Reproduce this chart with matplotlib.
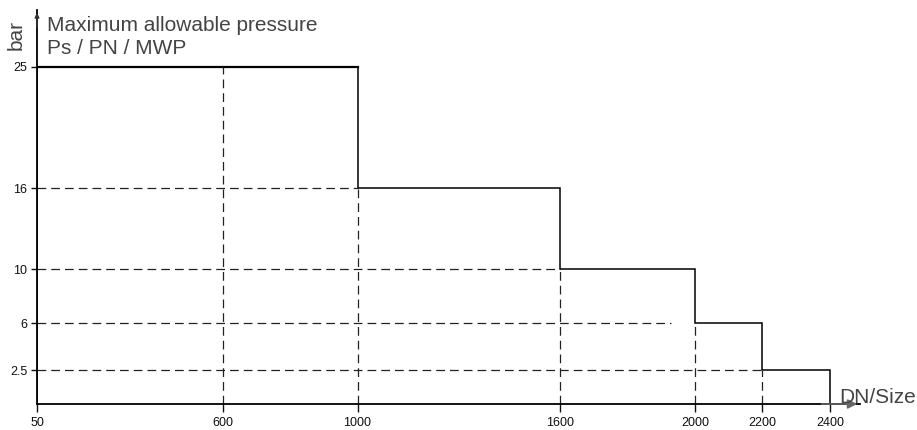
import matplotlib.pyplot as plt

plt.rcParams["font.family"] = ["Liberation Sans", "DejaVu Sans"]

# pressure class steps
dn_edges = [50, 1000, 1600, 2000, 2200, 2400]
pressures = [25, 16, 10, 6, 2.5]

# dashed helper lines
h_levels = [16, 10, 6, 2.5]
h_ends = [1000, 1600, 1930, 2200]
v_positions = [600, 1000, 1600, 2000, 2200]
v_tops = [25, 16, 10, 6, 2.5]

x_ticks = [50, 600, 1000, 1600, 2000, 2200, 2400]
y_ticks = [2.5, 6, 10, 16, 25]

fig = plt.figure(figsize=(9.17, 4.30), dpi=100)
ax = fig.add_axes([37 / 917, 1 - 404 / 430, 823 / 917, 394 / 430])
ax.set_xlim(50, 2489)
ax.set_ylim(0, 29.2)

dash = (0, (7, 4))
for lvl, end in zip(h_levels, h_ends):
    ax.plot([50, end], [lvl, lvl], color="#222", lw=0.9, linestyle=dash)
for xv, top in zip(v_positions, v_tops):
    ax.plot([xv, xv], [0, top], color="#222", lw=0.9, linestyle=dash)

ax.stairs(pressures, dn_edges, baseline=0, color="black", lw=1.1)
ax.plot([50, 1000], [25, 25], color="black", lw=1.6)

for s in ["top", "right"]:
    ax.spines[s].set_visible(False)
ax.spines["left"].set_linewidth(1.3)
ax.spines["bottom"].set_linewidth(1.3)

ax.set_xticks(x_ticks)
ax.set_xticklabels([str(v) for v in x_ticks])
ax.set_yticks(y_ticks)
ax.set_yticklabels(["2.5", "6", "10", "16", "25"])
ax.tick_params(axis="x", length=6, width=1, pad=3, labelsize=9, colors="#111")
ax.tick_params(axis="y", length=4, width=1, pad=3, labelsize=9, colors="#111")

ax.annotate("", xy=(1.0, 0), xytext=(0.95, 0), xycoords="axes fraction",
            arrowprops=dict(arrowstyle="-|>", color="#666", lw=1.2, mutation_scale=14))
ax.annotate("", xy=(0, 1.0), xytext=(0, 0.95), xycoords="axes fraction",
            arrowprops=dict(arrowstyle="-|>", color="#333", lw=1.2, mutation_scale=6))

fig.text(47 / 917, 1 - 31 / 430, "Maximum allowable pressure", fontsize=15, color="#444")
fig.text(47 / 917, 1 - 54 / 430, "Ps / PN / MWP", fontsize=15, color="#444")
fig.text(7 / 917, 1 - 46 / 430, "bar", fontsize=15, color="#444", rotation=90)
fig.text(839 / 917, 1 - 403 / 430, "DN/Size", fontsize=15, color="#444")

fig.savefig("out.png", dpi=100)
